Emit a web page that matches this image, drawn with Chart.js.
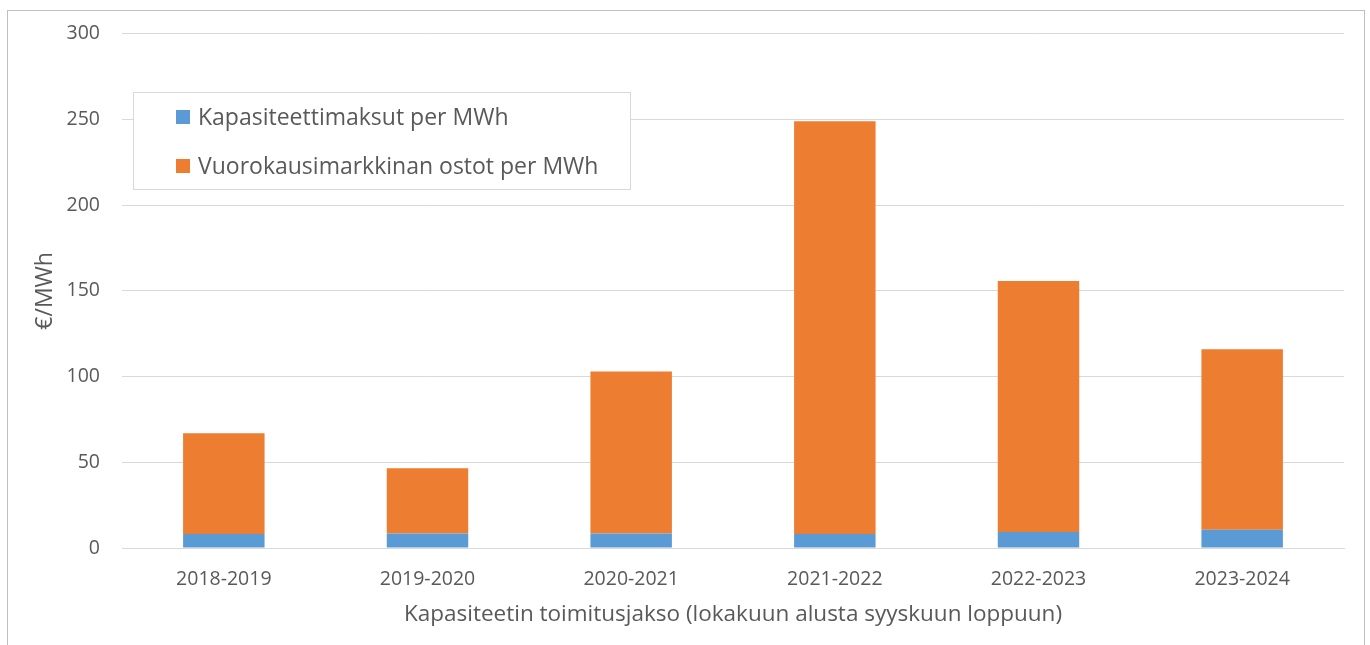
<!DOCTYPE html>
<html>
<head>
<meta charset="utf-8">
<script src="https://cdn.jsdelivr.net/npm/chart.js@4"></script>
<style>
  html, body { margin: 0; padding: 0; background: #fff; }
  #wrap { width: 1370px; height: 645px; position: relative; }
</style>
</head>
<body>
<div id="wrap"><canvas id="kaavio" width="1370" height="645"></canvas></div>
<script>
const kaudet = ['2018-2019', '2019-2020', '2020-2021', '2021-2022', '2022-2023', '2023-2024']
const kapasiteettimaksut = [8.1, 8.5, 8.5, 8.1, 9.3, 10.6]
const vuorokausiostot = [58.9, 38.0, 94.5, 240.9, 146.5, 105.4]
const yTikit = [0, 50, 100, 150, 200, 250, 300]

const fontti = '"Open Sans", Lato, sans-serif'
const tekstiVari = '#595959'

// kehys koko kuvan ympärille
const kehys = {
    id: 'kehys',
    beforeDraw: (chart) => {
        const ctx = chart.ctx
        ctx.save()
        ctx.strokeStyle = '#bfbfbf'
        ctx.lineWidth = 1
        ctx.strokeRect(7.5, 10.5, 1357, 700)
        ctx.restore()
    }
}

// selite laatikossa kuvaajan sisällä
const selite = {
    id: 'selite',
    afterDraw: (chart) => {
        const ctx = chart.ctx
        ctx.save()
        ctx.fillStyle = '#ffffff'
        ctx.fillRect(133, 92, 498, 98)
        ctx.strokeStyle = '#d9d9d9'
        ctx.lineWidth = 1
        ctx.strokeRect(133.5, 92.5, 497, 97)
        ctx.font = '23px ' + fontti
        ctx.textBaseline = 'middle'
        chart.data.datasets.forEach((ds, i) => {
            const y = 117 + i * 49
            ctx.fillStyle = ds.backgroundColor
            ctx.fillRect(176, y - 7, 14, 14)
            ctx.fillStyle = tekstiVari
            ctx.fillText(ds.label, 198, y + 1)
        })
        ctx.restore()
    }
}

new Chart(document.querySelector('#kaavio'), {
    type: 'bar',
    data: {
        labels: kaudet,
        datasets: [
            { label: 'Kapasiteettimaksut per MWh', data: kapasiteettimaksut, backgroundColor: '#5b9bd5' },
            { label: 'Vuorokausimarkkinan ostot per MWh', data: vuorokausiostot, backgroundColor: '#ed7d31' }
        ]
    },
    options: {
        responsive: false,
        animation: false,
        barPercentage: 1,
        categoryPercentage: 0.4,
        layout: { padding: { left: 20, right: 26, top: 22, bottom: 17 } },
        plugins: { legend: { display: false }, tooltip: { enabled: false } },
        scales: {
            x: {
                stacked: true,
                grid: { display: false },
                border: { color: '#d9d9d9', width: 1 },
                ticks: { color: tekstiVari, font: { family: fontti, size: 19.5 }, padding: 12 },
                title: {
                    display: true,
                    text: 'Kapasiteetin toimitusjakso (lokakuun alusta syyskuun loppuun)',
                    color: tekstiVari,
                    font: { family: fontti, size: 22.5 },
                    padding: { top: 8, bottom: 0 }
                },
                afterFit: (scale) => { scale.height = 80 }
            },
            y: {
                stacked: true,
                min: 0,
                max: 300,
                grid: { color: '#d9d9d9', drawTicks: false },
                border: { display: false },
                afterBuildTicks: (scale) => { scale.ticks = yTikit.map(v => ({ value: v })) },
                ticks: { color: tekstiVari, font: { family: fontti, size: 19.5 }, padding: 22 },
                title: {
                    display: true,
                    text: '€/MWh',
                    color: tekstiVari,
                    font: { family: fontti, size: 23 },
                    padding: { top: 12, bottom: 0 }
                },
                afterFit: (scale) => { scale.width = 102 }
            }
        }
    },
    plugins: [kehys, selite]
})
</script>
</body>
</html>
